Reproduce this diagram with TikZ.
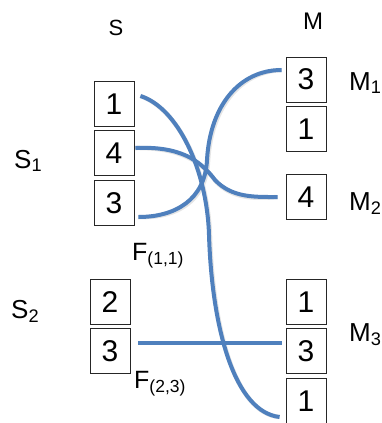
\documentclass[tikz,border=0pt]{standalone}
\usepackage{fontspec}
\setmainfont{Liberation Sans}
\begin{document}
\begin{tikzpicture}[x=1pt,y=-1pt,
  cell/.style={draw=black!85,line width=0.9pt,minimum width=40pt,minimum height=45pt,inner sep=0pt,font=\fontsize{30}{30}\selectfont,text depth=0pt},
  flow/.style={draw={rgb,255:red,79;green,128;blue,189},line width=4pt},
  shade/.style={draw=black!10,line width=4.5pt},
  lab/.style={font=\fontsize{26}{26}\selectfont,inner sep=0pt,anchor=base west}
]
\useasboundingbox (0,0) rectangle (382,423);
% left boxes
\node[cell] (a1) at (114,104) {1};
\node[cell] (a2) at (114,153) {4};
\node[cell] (a3) at (114,203) {3};
\node[cell] (b1) at (110,302) {2};
\node[cell] (b2) at (110,351) {3};
% right boxes
\node[cell] (m1) at (306,79.5) {3};
\node[cell] (m2) at (306,129) {1};
\node[cell] (m3) at (306,197) {4};
\node[cell] (n1) at (306,302) {1};
\node[cell] (n2) at (306,351) {3};
\node[cell] (n3) at (306,401) {1};
% headers
\node[font=\fontsize{22}{22}\selectfont] (hs) at (116,28) {S};
\node[font=\fontsize{24}{24}\selectfont] (hm) at (313,21) {M};
\node[lab] (s1) at (14,168) {S\textsubscript{1}};
\node[lab] (s2) at (11,318) {S\textsubscript{2}};
\node[lab] (lm1) at (349,90) {M\textsubscript{1}};
\node[lab] (lm2) at (349,210) {M\textsubscript{2}};
\node[lab] (lm3) at (349,341) {M\textsubscript{3}};
\node[lab,font=\fontsize{25}{25}\selectfont] (f1) at (132,260) {F\textsubscript{(1,1)}};
\node[lab,font=\fontsize{25}{25}\selectfont] (f2) at (134,388) {F\textsubscript{(2,3)}};
% connector end points
\coordinate (c1s) at ([xshift=6pt,yshift=8pt]a1.east);
\coordinate (c1e) at ([xshift=-6pt,yshift=-16pt]n3.west);
\coordinate (c2s) at ([xshift=1pt,yshift=5pt]a2.east);
\coordinate (c2e) at ([xshift=-8pt]m3.west);
\coordinate (c3s) at ([xshift=4pt,yshift=-14pt]a3.east);
\coordinate (c3e) at ([xshift=-4pt,yshift=9.5pt]m1.west);
\coordinate (c4s) at ([xshift=8pt,yshift=8pt]b2.east);
\coordinate (c4e) at ([xshift=-4pt,yshift=8pt]n2.west);
\begin{scope}[shift={(1,1.5)}]
\draw[shade] (c1s) .. controls (178,108) and (207,170) .. (209,235)
  .. controls (212,330) and (235,412) .. (c1e);
\draw[shade] (c2s) .. controls (180,146) and (200,160) .. (215,180)
  .. controls (232,198) and (255,197) .. (c2e);
\draw[shade] (c3s) .. controls (175,217) and (205,200) .. (207,160)
  .. controls (210,105) and (240,70) .. (c3e);
\draw[shade] (c4s) -- (c4e);
\end{scope}
\draw[flow] (c1s) .. controls (178,108) and (207,170) .. (209,235)
  .. controls (212,330) and (235,412) .. (c1e);
\draw[flow] (c2s) .. controls (180,146) and (200,160) .. (215,180)
  .. controls (232,198) and (255,197) .. (c2e);
\draw[flow] (c3s) .. controls (175,217) and (205,200) .. (207,160)
  .. controls (210,105) and (240,70) .. (c3e);
\draw[flow] (c4s) -- (c4e);
\end{tikzpicture}
\end{document}
